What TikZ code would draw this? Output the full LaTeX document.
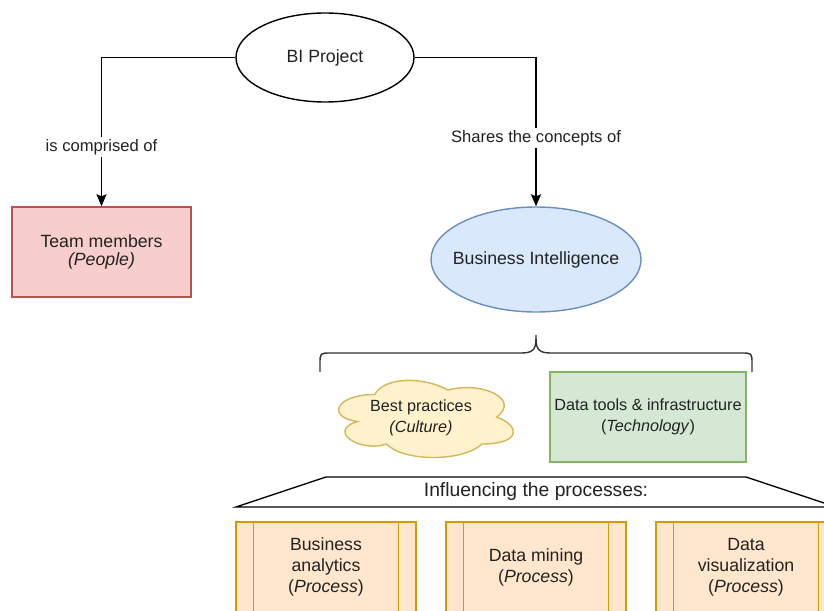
\documentclass[tikz,border=0pt]{standalone}
\usepackage{fontspec}
\setmainfont{Liberation Sans}
\usetikzlibrary{shapes.geometric,arrows.meta}

\definecolor{ink}{HTML}{222222}
\definecolor{redfill}{HTML}{F8CECC}\definecolor{redline}{HTML}{B85450}
\definecolor{bluefill}{HTML}{DAE8FC}\definecolor{blueline}{HTML}{6C8EBF}
\definecolor{yelfill}{HTML}{FFF2CC}\definecolor{yelline}{HTML}{D6B656}
\definecolor{grnfill}{HTML}{D5E8D4}\definecolor{grnline}{HTML}{82B366}
\definecolor{orgfill}{HTML}{FFE6CC}\definecolor{orgline}{HTML}{D79B00}

\begin{document}
\begin{tikzpicture}[x=1pt, y=-1pt, line width=1.4pt,
  every node/.style={text=ink, font=\fontsize{17.7}{21}\selectfont, align=center, inner sep=0pt},
  every label/.style={text=ink, font=\fontsize{17.7}{21}\selectfont},
  oval/.style={ellipse, draw=black, fill=white},
  small/.style={font=\fontsize{16.2}{21}\selectfont},
  link/.style={draw=black, -{Stealth[length=12pt, width=10pt, inset=2pt]}},
  lbl/.style={fill=white, inner sep=2pt, font=\fontsize{16.6}{19.5}\selectfont},
  peoplebox/.style={rectangle, draw=redline, fill=redfill, minimum width=179pt, minimum height=90pt,
    font=\fontsize{17.7}{18.5}\selectfont},
  techbox/.style={rectangle, draw=grnline, fill=grnfill, minimum width=196pt, minimum height=90pt},
  procbox/.style={rectangle, draw=orgline, fill=orgfill, minimum width=180pt, minimum height=90pt},
  procline/.style={draw=orgline}
]
\useasboundingbox (0,0) rectangle (824,610);
\clip (0,0) rectangle (824,610);

% top level nodes
\node[oval, minimum width=178pt, minimum height=89pt, label=center:{BI Project}] (proj) at (325,57.5) {};
\node[peoplebox] (team) at (101.5,252) {Team members\\\textit{(People)}};
\node[oval, draw=blueline, fill=bluefill, minimum width=210pt, minimum height=105pt,
  label=center:{Business Intelligence}] (bi) at (536,259.5) {};

% connectors from the project
\draw[link] (proj.west) -| (team.north) node[lbl, pos=0.80] {is comprised of};
\draw[link] (proj.east) -| (bi.north) node[lbl, pos=0.77] {Shares the concepts of};

% curly brace below Business Intelligence
\coordinate (bl) at (320,372);
\coordinate (br) at (752,372);
\coordinate (tip) at (536,335);
\draw[draw=black!80] (bl) -- (320,364) .. controls (320,353) .. (331,353) -- (522,353)
  .. controls (536,353) and (536,346) .. (tip)
  .. controls (536,346) and (536,353) .. (550,353) -- (741,353)
  .. controls (752,353) .. (752,364) -- (br);

% cloud: best practices
\begin{scope}[shift={(326,372)}, x=195pt, y=-90pt]
  \draw[draw=yelline, fill=yelfill] (0.25,0.25)
    .. controls (0.05,0.25) and (0,0.5) .. (0.16,0.55)
    .. controls (0,0.66) and (0.18,0.9) .. (0.31,0.8)
    .. controls (0.4,1) and (0.7,1) .. (0.8,0.8)
    .. controls (1,0.8) and (1,0.6) .. (0.875,0.5)
    .. controls (1,0.3) and (0.8,0.1) .. (0.625,0.2)
    .. controls (0.5,0.05) and (0.3,0.05) .. (0.25,0.25) -- cycle;
\end{scope}
\node[small] (bp) at (421,418) {Best practices\\\textit{(Culture)}};

% technology box
\node[techbox, small] (tech) at (648,417) {Data tools \& infrastructure\\(\textit{Technology})};

% trapezoid banner
\draw[draw=black, fill=white] (236,507) -- (326,477) -- (746,477) -- (836,507) -- cycle;
\node[font=\fontsize{19.3}{23}\selectfont] (infl) at (536,492) {Influencing the processes:};

% process boxes
\node[procbox] (p1) at (326,567) {Business\\analytics\\(\textit{Process})};
\node[procbox] (p2) at (536,567) {Data mining\\(\textit{Process})};
\node[procbox] (p3) at (746,567) {Data\\visualization\\(\textit{Process})};
\foreach \p in {p1,p2,p3}{
  \draw[procline] ([xshift=18pt]\p.north west) -- ([xshift=18pt]\p.south west);
  \draw[procline] ([xshift=-18pt]\p.north east) -- ([xshift=-18pt]\p.south east);
}
\end{tikzpicture}
\end{document}
